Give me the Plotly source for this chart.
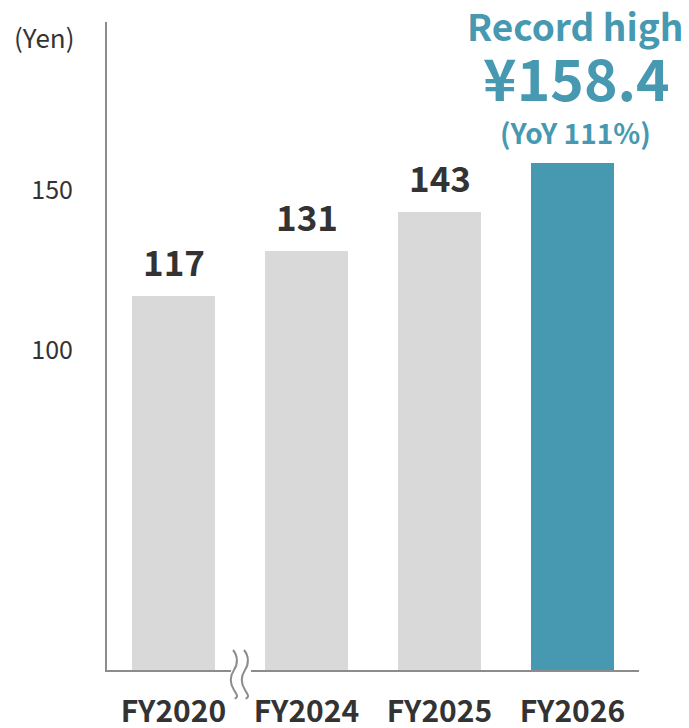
import plotly.graph_objects as go

categories = ["FY2020", "FY2024", "FY2025", "FY2026"]
values = [117, 131, 143, 158.4]
value_labels = ["117", "131", "143", ""]
bar_colors = ["#D9D9D9", "#D9D9D9", "#D9D9D9", "#4699B1"]
y_tickvals = [100, 150]
y_ticktext = ["100", "150"]
unit_label = "(Yen)"
record_lines = ["Record high", "¥158.4", "(YoY 111%)"]

FONT = "Noto Sans CJK JP"
TEAL = "#4699B1"
DARK = "#333333"
AXIS = "#8C8C8C"

fig = go.Figure()
fig.add_trace(go.Bar(
    x=list(range(len(categories))), y=values,
    marker=dict(color=bar_colors, line=dict(width=0)),
    width=0.617, hoverinfo="skip",
))

# value labels above gray bars
for i, (v, t) in enumerate(zip(values, value_labels)):
    if t:
        fig.add_annotation(x=i, y=v, xref="x", yref="y", text=t, showarrow=False,
                           yanchor="bottom", yshift=8,
                           font=dict(family=FONT, size=35, color=DARK, weight="bold"))

# record-high callout
last = len(values) - 1
fig.add_annotation(x=last, y=values[last], text=record_lines[2], showarrow=False,
                   yanchor="bottom", yshift=9, xshift=3,
                   font=dict(family=FONT, size=28, color=TEAL, weight="bold"))
fig.add_annotation(x=last, y=values[last], text=record_lines[1], showarrow=False,
                   yanchor="bottom", yshift=44, xshift=4,
                   font=dict(family=FONT, size=57, color=TEAL, weight="bold"))
fig.add_annotation(x=last, y=values[last], text=record_lines[0], showarrow=False,
                   yanchor="bottom", yshift=109, xshift=2,
                   font=dict(family=FONT, size=37, color=TEAL, weight="bold"))

# unit label
fig.add_annotation(xref="paper", yref="paper", x=-0.1786, y=0.978, text=unit_label,
                   showarrow=False, xanchor="left", yanchor="middle",
                   font=dict(family=FONT, size=26, color=DARK))

# axis break marker between first and second category
fig.add_shape(type="rect", xref="x", yref="paper", xsizemode="pixel", ysizemode="pixel",
              xanchor=0.5, yanchor=0, x0=-9, x1=11, y0=-4, y1=4,
              fillcolor="white", line=dict(width=0), layer="above")
for dx in (-7, 4):
    path = (f"M {dx},20 C {dx+5},14 {dx+5},6 {dx+1},0 "
            f"S {dx-4},-12 {dx+1},-20 S {dx+4},-26 {dx+2},-29")
    fig.add_shape(type="path", xref="x", yref="paper", xsizemode="pixel", ysizemode="pixel",
                  xanchor=0.5, yanchor=0, path=path,
                  line=dict(color=AXIS, width=2), layer="above")

# page body has an 8px margin, so the figure is sized/margined to compensate
fig.update_layout(
    width=681, height=720,
    margin=dict(l=99, r=50, t=14, b=58),
    paper_bgcolor="white", plot_bgcolor="white",
    showlegend=False, bargap=0,
    font=dict(family=FONT, color=DARK),
)
fig.update_xaxes(range=[-0.5, 3.5], tickvals=list(range(len(categories))),
                 ticktext=categories, showgrid=False, zeroline=False,
                 showline=True, linecolor=AXIS, linewidth=2, ticks="",
                 ticklabelstandoff=14, automargin=False,
                 tickfont=dict(family=FONT, size=30, color=DARK, weight="bold"))
fig.update_yaxes(range=[0, 202.5], tickvals=y_tickvals, ticktext=y_ticktext,
                 showgrid=False, zeroline=False, showline=True, linecolor=AXIS,
                 linewidth=2, ticks="", ticklabelstandoff=27, automargin=False,
                 tickfont=dict(family=FONT, size=25, color=DARK))

fig.write_html("out.html")
